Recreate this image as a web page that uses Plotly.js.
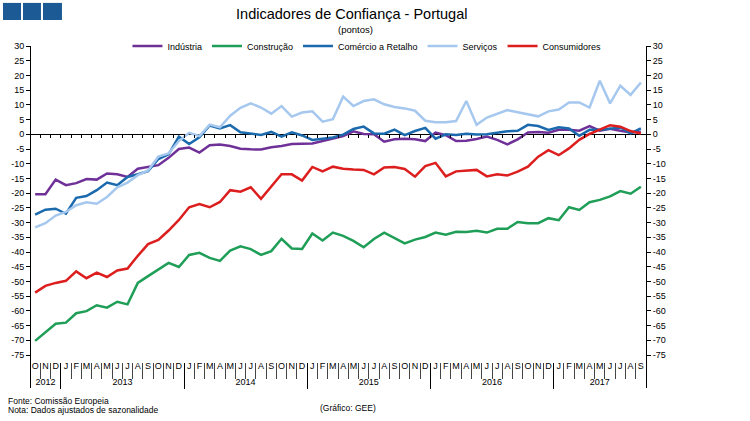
<!DOCTYPE html>
<html>
<head>
<meta charset="utf-8">
<script src="https://cdn.plot.ly/plotly-3.0.1.min.js"></script>
<style>html,body{margin:0;padding:0;background:#fff}#chart{width:750px;height:421px}</style>
</head>
<body>
<div id="chart"></div>
<script>
// Monthly periods Oct 2012 - Sep 2017
const periods = ['2012-10','2012-11','2012-12',
 '2013-01','2013-02','2013-03','2013-04','2013-05','2013-06','2013-07','2013-08','2013-09','2013-10','2013-11','2013-12',
 '2014-01','2014-02','2014-03','2014-04','2014-05','2014-06','2014-07','2014-08','2014-09','2014-10','2014-11','2014-12',
 '2015-01','2015-02','2015-03','2015-04','2015-05','2015-06','2015-07','2015-08','2015-09','2015-10','2015-11','2015-12',
 '2016-01','2016-02','2016-03','2016-04','2016-05','2016-06','2016-07','2016-08','2016-09','2016-10','2016-11','2016-12',
 '2017-01','2017-02','2017-03','2017-04','2017-05','2017-06','2017-07','2017-08','2017-09'];
const monthLetters = ['O','N','D',
 'J','F','M','A','M','J','J','A','S','O','N','D',
 'J','F','M','A','M','J','J','A','S','O','N','D',
 'J','F','M','A','M','J','J','A','S','O','N','D',
 'J','F','M','A','M','J','J','A','S','O','N','D',
 'J','F','M','A','M','J','J','A','S'];
const yearLabels = ['2012','2013','2014','2015','2016','2017'];
const yearFirstIndex = [0,3,15,27,39,51];
const yearMonthCount = [3,12,12,12,12,9];

const industria = [-20.4,-20.4,-15.4,-17.3,-16.6,-15.2,-15.4,-13.3,-13.6,-14.5,
 -11.7,-11.0,-10.5,-8.0,-5.0,-4.5,-6.2,-3.7,-3.5,-4.0,
 -4.9,-5.1,-5.2,-4.4,-4.0,-3.3,-3.1,-3.1,-2.3,-1.5,
 -0.6,1.0,0.1,0.0,-2.5,-1.7,-1.5,-1.7,-2.3,0.6,
 -0.3,-2.3,-2.2,-1.6,-0.8,-1.9,-3.4,-1.7,0.6,0.8,
 0.5,1.5,1.5,1.2,2.8,1.2,1.9,1.2,0.6,0.9];
const construcao = [-70.2,-67.4,-64.4,-64.0,-60.8,-60.1,-58.1,-58.9,-56.9,-57.8,
 -50.5,-48.2,-45.9,-43.7,-45.1,-41.0,-40.3,-42.0,-43.0,-39.5,
 -38.1,-39.0,-41.0,-39.7,-35.5,-38.8,-39.0,-33.7,-36.1,-33.4,
 -34.5,-36.2,-38.4,-35.6,-33.4,-35.3,-37.1,-35.8,-34.9,-33.4,
 -34.1,-33.1,-33.2,-32.8,-33.4,-32.1,-32.1,-29.8,-30.2,-30.2,
 -28.5,-29.2,-24.8,-25.7,-23.1,-22.3,-21.1,-19.3,-20.2,-17.8];
const comercio = [-27.3,-25.6,-25.3,-27.0,-21.6,-21.0,-19.0,-16.4,-17.3,-14.5,
 -13.6,-12.5,-8.4,-6.8,-0.8,-3.3,-1.0,3.0,2.0,3.1,
 0.7,0.2,-0.2,0.8,-0.8,0.7,-0.4,-1.9,-1.6,-1.1,
 -0.1,1.8,2.6,0.3,0.2,1.6,-0.3,1.1,2.2,-1.5,
 0.0,-0.2,0.2,-0.1,0.0,0.6,1.0,1.2,3.2,2.8,
 1.5,2.4,2.0,-0.5,1.5,1.5,1.8,2.3,0.3,2.0];
const servicos = [-31.6,-30.2,-27.6,-26.4,-24.1,-23.1,-23.6,-21.3,-18.0,-16.4,
 -13.9,-12.3,-7.6,-6.5,-2.3,0.5,-0.6,3.3,2.4,6.3,
 9.0,10.5,9.1,7.0,9.6,6.0,7.4,7.8,4.3,5.1,
 12.8,9.6,11.3,11.9,10.2,9.3,8.8,8.0,4.6,4.1,
 4.1,4.5,11.3,3.2,5.7,6.9,8.2,7.5,6.8,6.1,
 7.8,8.4,10.8,10.8,9.1,18.2,10.5,16.5,13.4,17.6];
const consumidores = [-53.8,-51.5,-50.5,-49.8,-46.6,-48.9,-47.0,-48.5,-46.3,-45.6,
 -41.3,-37.3,-35.9,-32.7,-29.1,-24.8,-23.7,-24.8,-23.0,-19.0,
 -19.5,-18.0,-21.9,-17.8,-13.6,-13.6,-15.7,-11.1,-12.6,-11.0,
 -11.7,-12.0,-12.1,-13.6,-11.3,-11.1,-11.8,-14.4,-10.8,-9.7,
 -14.3,-12.6,-12.3,-12.1,-14.3,-13.6,-14.0,-12.7,-11.0,-7.6,
 -5.4,-7.1,-4.8,-1.9,0.1,1.7,3.1,2.6,1.1,0.3];

const seriesNames = ['Indústria','Construção','Comércio a Retalho','Serviços','Consumidores'];
const seriesValues = [industria, construcao, comercio, servicos, consumidores];
const seriesColors = ['#6f3198','#1e9e57','#1a6aad','#a6c8ee','#dc1e1e'];

const yTicks = [30,25,20,15,10,5,0,-5,-10,-15,-20,-25,-30,-35,-40,-45,-50,-55,-60,-65,-70,-75];

// derived tick positions (axis decoration only)
const n = periods.length;
const monthBounds = [];
for (let i = 0; i < n - 1; i++) monthBounds.push(i + 0.5);
const yearBounds = yearFirstIndex.slice(1).map(v => v - 0.5);
const yearCenters = yearFirstIndex.map((v, k) => v + (yearMonthCount[k] - 1) / 2);

const traces = seriesNames.map((name, k) => ({
  type: 'scatter', mode: 'lines', name: name,
  x: periods, y: seriesValues[k],
  line: {color: seriesColors[k], width: 2.5},
  xaxis: 'x', yaxis: 'y'
}));
// empty helper traces so that decoration axes are instantiated
const helperAxes = [['x2','y'],['x3','y'],['x4','y'],['x5','y'],['x','y2']];
helperAxes.forEach(([xa, ya]) => traces.push({
  type: 'scatter', mode: 'lines', x: [], y: [], xaxis: xa, yaxis: ya,
  showlegend: false, hoverinfo: 'skip'
}));

const xr = [-0.5, n - 0.5];
const yr = [-86.21, 30];
const FAM = 'Liberation Sans, Arial, sans-serif';
const fnt = {family: FAM, size: 9, color: '#000'};
const yTickText = yTicks.map(String);

const base = {showgrid: false, zeroline: false, showline: false, fixedrange: true};

const layout = {
  width: 750, height: 421,
  margin: {l: 30, r: 104, t: 46, b: 33, pad: 0},
  paper_bgcolor: '#fff', plot_bgcolor: 'rgba(0,0,0,0)',
  font: fnt,
  showlegend: true,
  title: {text: 'Indicadores de Confiança - Portugal', x: 0.469, xref: 'container', y: 0.967, yanchor: 'middle',
          font: {family: FAM, size: 14.5, color: '#000'}},
  legend: {orientation: 'h', x: 0.547, xanchor: 'center', y: 1.0, yanchor: 'middle',
           font: {family: FAM, size: 9, color: '#000'},
           bgcolor: 'rgba(0,0,0,0)', itemwidth: 30, tracegroupgap: 0},
  xaxis: Object.assign({}, base, {type: 'category', range: xr, anchor: 'free', position: 0.0848,
          tickmode: 'array', tickvals: periods, ticktext: monthLetters, ticks: '', tickfont: fnt}),
  xaxis2: Object.assign({}, base, {type: 'linear', overlaying: 'x', range: xr, anchor: 'free', position: 0.7418,
          tickmode: 'array', tickvals: monthBounds, ticks: 'outside', ticklen: 3, tickcolor: '#000', showticklabels: false}),
  xaxis3: Object.assign({}, base, {type: 'linear', overlaying: 'x', range: xr, anchor: 'free', position: 0.076,
          tickmode: 'array', tickvals: monthBounds, ticks: 'outside', ticklen: 16, tickcolor: '#444', showticklabels: false}),
  xaxis4: Object.assign({}, base, {type: 'linear', overlaying: 'x', range: xr, anchor: 'free', position: 0.076,
          tickmode: 'array', tickvals: yearBounds, ticks: 'outside', ticklen: 26, tickcolor: '#000', showticklabels: false}),
  xaxis5: Object.assign({}, base, {type: 'linear', overlaying: 'x', range: xr, anchor: 'free', position: 0.038,
          tickmode: 'array', tickvals: yearCenters, ticktext: yearLabels, ticks: '', tickfont: fnt}),
  yaxis: {range: yr, anchor: 'free', position: 0, showgrid: false, fixedrange: true,
          zeroline: true, zerolinecolor: '#000', zerolinewidth: 1,
          showline: true, linecolor: '#000', linewidth: 1,
          tickmode: 'array', tickvals: yTicks, ticktext: yTickText,
          ticks: 'outside', ticklen: 4, tickcolor: '#000', tickfont: fnt},
  yaxis2: {range: yr, overlaying: 'y', side: 'right', anchor: 'free', position: 1, showgrid: false, zeroline: false, fixedrange: true,
          showline: true, linecolor: '#000', linewidth: 1,
          tickmode: 'array', tickvals: yTicks, ticktext: yTickText,
          ticks: 'outside', ticklen: 4, tickcolor: '#000', tickfont: fnt},
  shapes: [
    {type: 'rect', xref: 'paper', yref: 'paper', x0: -0.0438, x1: -0.0146, y0: 1.076, y1: 1.126, fillcolor: '#1c5a96', line: {width: 0}},
    {type: 'rect', xref: 'paper', yref: 'paper', x0: -0.0114, x1: 0.0178, y0: 1.076, y1: 1.126, fillcolor: '#1c5a96', line: {width: 0}},
    {type: 'rect', xref: 'paper', yref: 'paper', x0: 0.0211, x1: 0.0519, y0: 1.076, y1: 1.126, fillcolor: '#1c5a96', line: {width: 0}}
  ],
  annotations: [
    {text: '(pontos)', xref: 'paper', yref: 'paper', x: 0.529, y: 1.0497, showarrow: false, xanchor: 'center', yanchor: 'middle',
     font: {family: FAM, size: 9.5, color: '#000'}},
    {text: 'Fonte: Comissão Europeia', xref: 'paper', yref: 'paper', x: -0.039, y: -0.038, showarrow: false, xanchor: 'left', yanchor: 'middle',
     font: {family: FAM, size: 8.5, color: '#000'}},
    {text: 'Nota: Dados ajustados de sazonalidade', xref: 'paper', yref: 'paper', x: -0.039, y: -0.064, showarrow: false, xanchor: 'left', yanchor: 'middle',
     font: {family: FAM, size: 8.5, color: '#000'}},
    {text: '(Gráfico: GEE)', xref: 'paper', yref: 'paper', x: 0.516, y: -0.058, showarrow: false, xanchor: 'center', yanchor: 'middle',
     font: {family: FAM, size: 8.5, color: '#000'}}
  ]
};

Plotly.newPlot('chart', traces, layout, {displayModeBar: false, staticPlot: true});
</script>
</body>
</html>
